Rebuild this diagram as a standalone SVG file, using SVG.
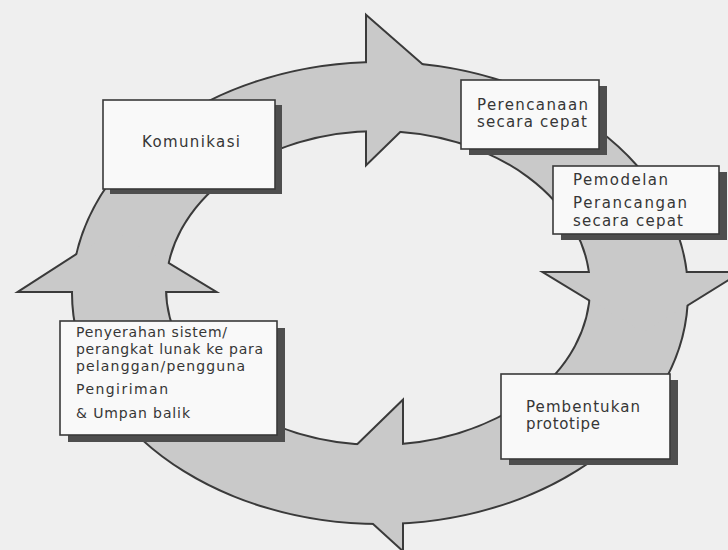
<svg xmlns="http://www.w3.org/2000/svg" xmlns:xlink="http://www.w3.org/1999/xlink" width="728" height="550" viewBox="0 0 728 550">
<style>
.bg{fill:#efefef}
.edge{fill:none;stroke:#3a3a3a;stroke-width:4;stroke-linejoin:miter}
.fillc{fill:#c9c9c9;stroke:none}
.shadow{fill:#4e4e4e}
.box{fill:#f9f9f9;stroke:#3a3a3a;stroke-width:1.6}
.t{font-family:"DejaVu Sans",sans-serif;font-size:15px;fill:#363636}
.s{font-size:14px}
</style>
<defs>
<path id="ring" fill-rule="evenodd" d="M73,293 a307,230 0 1,0 614,0 a307,230 0 1,0 -614,0 Z M165,288 a213,158 0 1,0 426,0 a213,158 0 1,0 -426,0 Z"/>
<polygon id="h1" points="367,17 446,86 367,163"/>
<polygon id="h2" points="546,273 738,273 643,332"/>
<polygon id="h3" points="402,402 324,478 402,549"/>
<polygon id="h4" points="21,291 114,231 213,291"/>
</defs>
<rect class="bg" x="0" y="0" width="728" height="550"/>
<g id="connectors">
<g class="edge">
<use xlink:href="#ring" href="#ring"/>
<use xlink:href="#h1" href="#h1"/>
<use xlink:href="#h2" href="#h2"/>
<use xlink:href="#h3" href="#h3"/>
<use xlink:href="#h4" href="#h4"/>
</g>
<g class="fillc">
<use xlink:href="#ring" href="#ring"/>
<use xlink:href="#h1" href="#h1"/>
<use xlink:href="#h2" href="#h2"/>
<use xlink:href="#h3" href="#h3"/>
<use xlink:href="#h4" href="#h4"/>
</g>
</g>
<g id="komunikasi">
<rect class="shadow" x="110" y="105" width="172" height="89"/>
<rect class="box" x="103" y="100" width="172" height="89"/>
<text class="t" x="142" y="147" textLength="98" lengthAdjust="spacing">Komunikasi</text>
</g>
<g id="perencanaan">
<rect class="shadow" x="469" y="86" width="138" height="69"/>
<rect class="box" x="461" y="80" width="138" height="69"/>
<text class="t" x="477" y="110" textLength="111" lengthAdjust="spacing">Perencanaan</text>
<text class="t" x="477" y="127" textLength="110" lengthAdjust="spacing">secara cepat</text>
</g>
<g id="pemodelan">
<rect class="shadow" x="561" y="172" width="166" height="68"/>
<rect class="box" x="553" y="166" width="166" height="68"/>
<text class="t" x="573" y="185" textLength="95" lengthAdjust="spacing">Pemodelan</text>
<text class="t" x="573" y="208" textLength="114" lengthAdjust="spacing">Perancangan</text>
<text class="t" x="573" y="226" textLength="110" lengthAdjust="spacing">secara cepat</text>
</g>
<g id="pembentukan">
<rect class="shadow" x="509" y="380" width="169" height="85"/>
<rect class="box" x="501" y="374" width="169" height="85"/>
<text class="t" x="526" y="412" textLength="114" lengthAdjust="spacing">Pembentukan</text>
<text class="t" x="526" y="429" textLength="74" lengthAdjust="spacing">prototipe</text>
</g>
<g id="penyerahan">
<rect class="shadow" x="68" y="328" width="217" height="114"/>
<rect class="box" x="60" y="321" width="217" height="114"/>
<text class="t s" x="76" y="337" textLength="151" lengthAdjust="spacing">Penyerahan sistem/</text>
<text class="t s" x="76" y="354" textLength="187" lengthAdjust="spacing">perangkat lunak ke para</text>
<text class="t s" x="76" y="371" textLength="169" lengthAdjust="spacing">pelanggan/pengguna</text>
<text class="t s" x="76" y="394" textLength="92" lengthAdjust="spacing">Pengiriman</text>
<text class="t s" x="76" y="418" textLength="114" lengthAdjust="spacing">&amp; Umpan balik</text>
</g>
</svg>
